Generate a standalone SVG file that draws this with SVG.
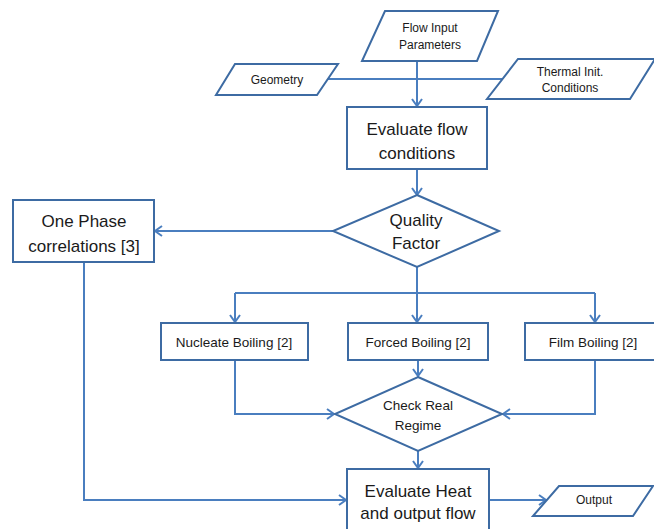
<svg xmlns="http://www.w3.org/2000/svg" width="654" height="529" viewBox="0 0 654 529">
<style>
.n{fill:#fff;stroke:#3d6ba3;stroke-width:2}
.c{fill:none;stroke:#4a7ebf;stroke-width:2}
text{font-family:"Liberation Sans",Arial,sans-serif;fill:#1a1a1a;text-anchor:middle;dominant-baseline:central}
.s{font-size:12px}
.m{font-size:13.5px}
.l{font-size:17px}
</style>
<defs>
<marker id="a" markerWidth="12" markerHeight="12" refX="10" refY="6" orient="auto" markerUnits="userSpaceOnUse">
<path d="M3,1 L10,6 L3,11" fill="none" stroke="#4a7ebf" stroke-width="2"/>
</marker>
</defs>
<rect width="654" height="529" fill="#fff"/>
<g id="connectors">
<path class="c" d="M327,79 H503"/>
<path class="c" d="M417,61 V106" marker-end="url(#a)"/>
<path class="c" d="M417,169 V195" marker-end="url(#a)"/>
<path class="c" d="M333,231 H155" marker-end="url(#a)"/>
<path class="c" d="M417,267 V293"/>
<path class="c" d="M235,293 H595"/>
<path class="c" d="M235,293 V322" marker-end="url(#a)"/>
<path class="c" d="M417,293 V322" marker-end="url(#a)"/>
<path class="c" d="M595,293 V322" marker-end="url(#a)"/>
<path class="c" d="M418,360 V376" marker-end="url(#a)"/>
<path class="c" d="M235,360 V414 H334" marker-end="url(#a)"/>
<path class="c" d="M595,360 V414 H503" marker-end="url(#a)"/>
<path class="c" d="M418,451 V468" marker-end="url(#a)"/>
<path class="c" d="M84,262 V500 H346" marker-end="url(#a)"/>
<path class="c" d="M489,500 H546" marker-end="url(#a)"/>
</g>
<g id="flow-input">
<polygon class="n" points="385,11 498,11 477,61 362,61"/>
<text class="s" x="430" y="28">Flow Input</text>
<text class="s" x="430" y="45">Parameters</text>
</g>
<g id="geometry">
<polygon class="n" points="235,64 338,64 317,95 216,95"/>
<text class="s" x="277" y="80">Geometry</text>
</g>
<g id="thermal">
<polygon class="n" points="518,59 655,59 630,99 487,99"/>
<text class="s" x="570" y="72">Thermal Init.</text>
<text class="s" x="570" y="88">Conditions</text>
</g>
<g id="eval-flow">
<rect class="n" x="347" y="107" width="140" height="62"/>
<text class="l" x="417" y="129">Evaluate flow</text>
<text class="l" x="417" y="153">conditions</text>
</g>
<g id="quality">
<polygon class="n" points="417,195 499,231 417,267 333,231"/>
<text class="l" x="416" y="220">Quality</text>
<text class="l" x="416" y="243">Factor</text>
</g>
<g id="one-phase">
<rect class="n" x="13" y="200" width="141" height="62"/>
<text class="l" x="84" y="221">One Phase</text>
<text class="l" x="84" y="246">correlations [3]</text>
</g>
<g id="nucleate">
<rect class="n" x="161" y="323" width="147" height="37"/>
<text class="m" x="234" y="342">Nucleate Boiling [2]</text>
</g>
<g id="forced">
<rect class="n" x="348" y="323" width="140" height="37"/>
<text class="m" x="418" y="342">Forced Boiling [2]</text>
</g>
<g id="film">
<rect class="n" x="525" y="323" width="137" height="37"/>
<text class="m" x="593" y="342">Film Boiling [2]</text>
</g>
<g id="check">
<polygon class="n" points="418,377 502,414 418,451 335,414"/>
<text class="m" x="418" y="405">Check Real</text>
<text class="m" x="418" y="425">Regime</text>
</g>
<g id="eval-heat">
<rect class="n" x="347" y="469" width="142" height="64"/>
<text class="l" x="418" y="491">Evaluate Heat</text>
<text class="l" x="418" y="513">and output flow</text>
</g>
<g id="output">
<polygon class="n" points="559,486 653,486 633,516 533,516"/>
<text class="s" x="594" y="500">Output</text>
</g>
</svg>
